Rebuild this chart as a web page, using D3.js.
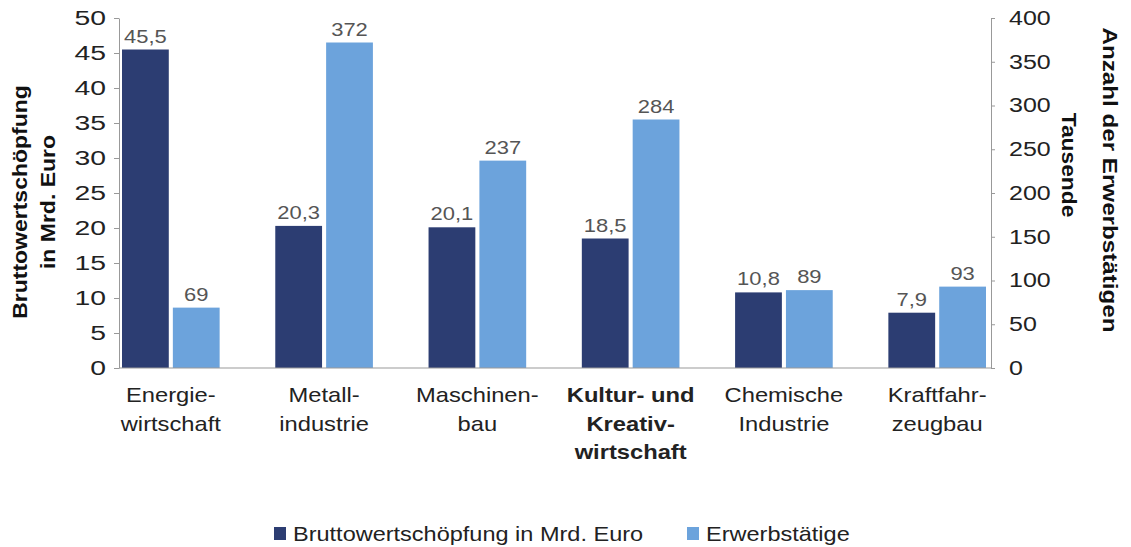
<!DOCTYPE html>
<html>
<head>
<meta charset="utf-8">
<script src="https://cdn.jsdelivr.net/npm/d3@7"></script>
<style>
  html, body { margin: 0; padding: 0; background: #fff; }
  svg { display: block; font-family: "Liberation Sans", Arial, sans-serif; }
</style>
</head>
<body>
<svg id="chart" width="1131" height="547"></svg>
<script>
// ---- data ----
const categories = ["Energiewirtschaft", "Metallindustrie", "Maschinenbau", "Kultur- und Kreativwirtschaft", "Chemische Industrie", "Kraftfahrzeugbau"];
const categoryLines = [["Energie-", "wirtschaft"], ["Metall-", "industrie"], ["Maschinen-", "bau"], ["Kultur- und", "Kreativ-", "wirtschaft"], ["Chemische", "Industrie"], ["Kraftfahr-", "zeugbau"]];
const highlighted = ["Kultur- und Kreativwirtschaft"];
const bruttowertschoepfung = [45.5, 20.3, 20.1, 18.5, 10.8, 7.9];
const erwerbstaetige = [69, 372, 237, 284, 89, 93];
const leftTicks = [0, 5, 10, 15, 20, 25, 30, 35, 40, 45, 50];
const rightTicks = [0, 50, 100, 150, 200, 250, 300, 350, 400];
const seriesNames = ["Bruttowertschöpfung in Mrd. Euro", "Erwerbstätige"];
const seriesColors = ["#2c3d72", "#6ca3dc"];

// ---- layout ----
const W = 1131, H = 547;
const plot = { left: 119, right: 991, top: 18, bottom: 368 };
const svg = d3.select("#chart");
const de = d3.formatLocale({ decimal: ",", thousands: ".", grouping: [3], currency: ["", " €"] });
const fmt1 = de.format(".1f"), fmt0 = de.format("d");

const yL = d3.scaleLinear().domain([0, 50]).range([plot.bottom, plot.top]);
const yR = d3.scaleLinear().domain([0, 400]).range([plot.bottom, plot.top]);
const x0 = d3.scaleBand().domain(categories).range([plot.left + 3, plot.right - 5]).paddingInner(0.363).paddingOuter(0);
const x1 = d3.scaleBand().domain([0, 1]).range([0, x0.bandwidth()]).paddingInner(0.08);

const rows = categories.map((c, i) => ({ cat: c, lines: categoryLines[i], vals: [bruttowertschoepfung[i], erwerbstaetige[i]] }));
const yScales = [yL, yR];
const fmts = [fmt1, fmt0];

// ---- axes ----
const axL = svg.append("g").attr("transform", `translate(${plot.left},0)`)
  .call(d3.axisLeft(yL).tickValues(leftTicks).tickSize(5).tickSizeOuter(0).tickPadding(8).tickFormat(d => d));
axL.select(".domain").attr("stroke", "#999");
axL.selectAll(".tick line").attr("stroke", "#999");
const sxL = 1.35;
axL.selectAll(".tick text").attr("font-size", 21).attr("fill", "#222").attr("font-family", "Liberation Sans, Arial, sans-serif")
  .attr("x", -13 / sxL).attr("transform", `scale(${sxL},1)`);

const axR = svg.append("g").attr("transform", `translate(${plot.right},0)`)
  .call(d3.axisRight(yR).tickValues(rightTicks).tickSize(4).tickSizeOuter(0).tickPadding(14).tickFormat(d => d));
axR.select(".domain").attr("stroke", "#999");
axR.selectAll(".tick line").attr("stroke", "#999");
const sxR = 1.25;
axR.selectAll(".tick text").attr("font-size", 20).attr("fill", "#222").attr("font-family", "Liberation Sans, Arial, sans-serif")
  .attr("x", 18 / sxR).attr("transform", `scale(${sxR},1)`);

// ---- bars ----
const groups = svg.append("g").selectAll("g").data(rows).join("g")
  .attr("transform", d => `translate(${x0(d.cat)},0)`);
groups.selectAll("rect").data(d => d.vals.map((v, k) => ({ v, k }))).join("rect")
  .attr("x", d => x1(d.k)).attr("width", x1.bandwidth())
  .attr("y", d => yScales[d.k](d.v)).attr("height", d => plot.bottom - yScales[d.k](d.v))
  .attr("fill", d => seriesColors[d.k]);

// baseline
svg.append("line").attr("x1", plot.left).attr("x2", plot.right).attr("y1", plot.bottom).attr("y2", plot.bottom)
  .attr("stroke", "#999").attr("stroke-width", 1.2);

// data labels
const sxD = 1.22;
groups.selectAll("text.val").data(d => d.vals.map((v, k) => ({ v, k }))).join("text").attr("class", "val")
  .attr("transform", d => `translate(${x1(d.k) + x1.bandwidth() / 2},${Math.min(yScales[d.k](d.v) - 7, yScales[d.k](d.v) - 7)}) scale(${sxD},1)`)
  .attr("text-anchor", "middle").attr("font-size", 18).attr("fill", "#555")
  .text(d => fmts[d.k](d.v));

// category labels
const sxC = 1.13;
svg.append("g").selectAll("g").data(rows).join("g")
  .attr("transform", d => `translate(${x0(d.cat) + x0.bandwidth() / 2},0)`)
  .each(function (d) {
    const bold = highlighted.includes(d.cat);
    d3.select(this).selectAll("text").data(d.lines).join("text")
      .attr("transform", (t, j) => `translate(0,${402 + j * 28.5}) scale(${sxC},1)`)
      .attr("text-anchor", "middle").attr("font-size", 21)
      .attr("font-weight", bold ? "bold" : "normal").attr("fill", "#222")
      .text(t => t);
  });

// axis titles
const leftTitle = ["Bruttowertschöpfung", "in Mrd. Euro"];
svg.append("g").selectAll("text").data(leftTitle).join("text")
  .attr("transform", (t, j) => `translate(${27 + j * 28},${202}) rotate(-90) scale(1.15,1)`)
  .attr("text-anchor", "middle").attr("font-size", 20).attr("font-weight", "bold").attr("fill", "#111")
  .text(t => t);

svg.append("text")
  .attr("transform", `translate(1103,180) rotate(90) scale(1.21,1)`)
  .attr("text-anchor", "middle").attr("font-size", 20).attr("font-weight", "bold").attr("fill", "#111")
  .text("Anzahl der Erwerbstätigen");
svg.append("text")
  .attr("transform", `translate(1062,165) rotate(90) scale(1.14,1)`)
  .attr("text-anchor", "middle").attr("font-size", 20).attr("font-weight", "bold").attr("fill", "#111")
  .text("Tausende");

// legend
const legendX = [274, 687];
const sxLg = 1.12;
const lg = svg.append("g").selectAll("g").data(seriesNames).join("g")
  .attr("transform", (d, i) => `translate(${legendX[i]},527)`);
lg.append("rect").attr("width", 12).attr("height", 13).attr("fill", (d, i) => seriesColors[i]);
lg.append("text").attr("transform", `translate(19,14) scale(${sxLg},1)`).attr("font-size", 21).attr("fill", "#222").text(d => d);
</script>
</body>
</html>
